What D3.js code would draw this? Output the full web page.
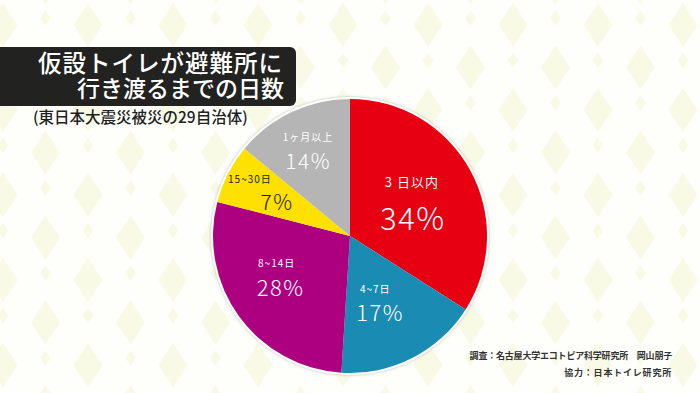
<!DOCTYPE html>
<html>
<head>
<meta charset="utf-8">
<script src="https://cdn.jsdelivr.net/npm/d3@7"></script>
<style>
  html, body { margin: 0; padding: 0; background: #fefffb; }
  svg { display: block; }
  text { font-family: "Noto Sans CJK JP", "Noto Sans", sans-serif; }
</style>
</head>
<body>
<svg id="chart" width="700" height="393"></svg>
<script>
// --- data ---
const categories = ["3 日以内", "4~7日", "8~14日", "15~30日", "1ヶ月以上"];
const shares = [34, 17, 28, 7, 14];
const sliceColors = ["#e60012", "#1a8bb2", "#ad0080", "#ffe100", "#b5b5b5"];
const labelColors = ["#fff", "#fff", "#fff", "#1a1a1a", "#fff"];
const titleLines = ["仮設トイレが避難所に", "行き渡るまでの日数"];
const subtitle = "(東日本大震災被災の29自治体)";
const credits = ["調査：名古屋大学エコトピア科学研究所　岡山朋子", "協力：日本トイレ研究所"];

// layout nudges for the labels (relative to centroid)
const nudges = [
  { lx: -10, ly: -15, vx: -9, vy: 20, ls: 13, vs: 31 },
  { lx: -12, ly: -21, vx: -7, vy: 2, ls: 10, vs: 22 },
  { lx: -7, ly: -22, vx: -3, vy: 2, ls: 10, vs: 22 },
  { lx: -27, ly: -20, vx: 0, vy: 2, ls: 10, vs: 21 },
  { lx: -7, ly: -25, vx: -7, vy: -2, ls: 10, vs: 21 }
];

const svg = d3.select("#chart");
const W = 700, H = 393;

// --- background diamonds ---
const defs = svg.append("defs");
const pat = defs.append("pattern")
  .attr("id", "bgpat")
  .attr("patternUnits", "userSpaceOnUse")
  .attr("x", 3).attr("y", 25)
  .attr("width", 85).attr("height", 85);

function diamond(cx, cy, w, h) {
  return `M${cx},${cy - h / 2}L${cx + w / 2},${cy}L${cx},${cy + h / 2}L${cx - w / 2},${cy}Z`;
}
const bigSpots = [[0, 0], [85, 0], [0, 85], [85, 85], [42.5, 42.5]];
const smallSpots = [[42.5, -7], [42.5, 78], [0, 35.5], [85, 35.5]];
pat.selectAll("path.big").data(bigSpots).join("path")
  .attr("class", "big")
  .attr("d", d => diamond(d[0], d[1], 29, 44))
  .attr("fill", "#f8fae5");
pat.selectAll("path.small").data(smallSpots).join("path")
  .attr("class", "small")
  .attr("d", d => diamond(d[0], d[1], 11, 15))
  .attr("fill", "#f8fae5");

svg.append("rect").attr("width", W).attr("height", H).attr("fill", "#fefffb");
svg.append("rect").attr("width", W).attr("height", H).attr("fill", "url(#bgpat)");

// --- title ---
svg.append("path")
  .attr("d", "M0,47H290a6,6 0 0 1 6,6V100a6,6 0 0 1 -6,6H0Z")
  .attr("fill", "#222221");

svg.append("text")
  .attr("x", 38).attr("y", 72)
  .attr("fill", "#fff")
  .attr("font-size", 23.5)
  .attr("font-weight", 500)
  .attr("letter-spacing", 1)
  .text(titleLines[0]);
svg.append("text")
  .attr("x", 284).attr("y", 97)
  .attr("text-anchor", "end")
  .attr("fill", "#fff")
  .attr("font-size", 23)
  .attr("font-weight", 500)
  .text(titleLines[1]);

svg.append("text")
  .attr("x", 33).attr("y", 123)
  .attr("fill", "#222")
  .attr("font-size", 15.5)
  .attr("font-weight", 500)
  .text(subtitle);

// --- pie ---
const cx = 350, cy = 236, R = 137;
const pie = d3.pie().sort(null).value(d => d);
const arcs = pie(shares);
const arc = d3.arc().innerRadius(0).outerRadius(R);
const labelArc = d3.arc().innerRadius(82).outerRadius(82);

const g = svg.append("g").attr("transform", `translate(${cx},${cy})`);

defs.append("filter").attr("id", "shadow")
  .attr("x", "-10%").attr("y", "-10%").attr("width", "120%").attr("height", "120%")
  .append("feDropShadow")
  .attr("dx", 0).attr("dy", 0).attr("stdDeviation", 1.5)
  .attr("flood-color", "#888").attr("flood-opacity", 0.6);

g.append("circle").attr("r", R + 2).attr("fill", "#fff").attr("filter", "url(#shadow)");

g.selectAll("path.slice").data(arcs).join("path")
  .attr("class", "slice")
  .attr("d", arc)
  .attr("fill", (d, i) => sliceColors[i]);

const labels = g.selectAll("g.lab").data(arcs).join("g").attr("class", "lab");
labels.append("text")
  .attr("x", (d, i) => labelArc.centroid(d)[0] + nudges[i].lx)
  .attr("y", (d, i) => labelArc.centroid(d)[1] + nudges[i].ly)
  .attr("text-anchor", "middle")
  .attr("dominant-baseline", "central")
  .attr("fill", (d, i) => labelColors[i])
  .attr("font-size", (d, i) => nudges[i].ls)
  .attr("letter-spacing", 1)
  .text((d, i) => categories[i]);
labels.append("text")
  .attr("x", (d, i) => labelArc.centroid(d)[0] + nudges[i].vx)
  .attr("y", (d, i) => labelArc.centroid(d)[1] + nudges[i].vy)
  .attr("text-anchor", "middle")
  .attr("dominant-baseline", "central")
  .attr("fill", (d, i) => labelColors[i])
  .attr("font-size", (d, i) => nudges[i].vs)
  .attr("font-weight", 300)
  .attr("letter-spacing", 1.5)
  .text(d => d.data + "%");

// --- credits ---
svg.selectAll("text.credit").data(credits).join("text")
  .attr("class", "credit")
  .attr("x", 672)
  .attr("y", (d, i) => 359 + i * 17)
  .attr("text-anchor", "end")
  .attr("fill", "#333")
  .attr("font-size", 9)
  .attr("font-weight", 700)
  .attr("letter-spacing", (d, i) => i === 0 ? -0.2 : 0.8)
  .text(d => d);
</script>
</body>
</html>
